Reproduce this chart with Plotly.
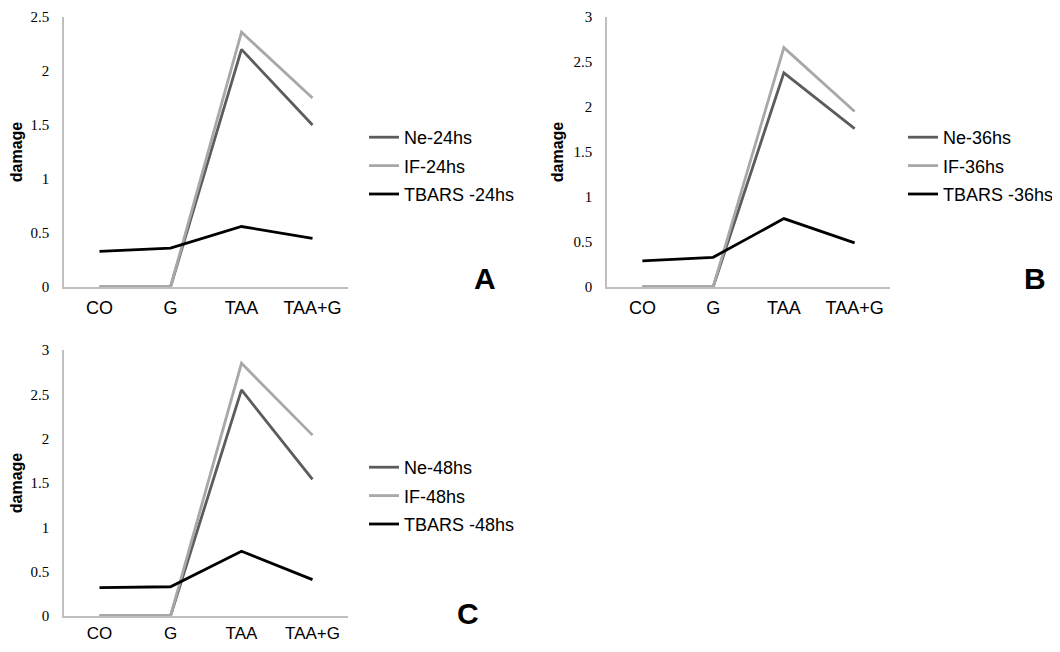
import plotly.graph_objects as go

categories = ["CO", "G", "TAA", "TAA+G"]

ne_24 = [0, 0, 2.20, 1.50]
if_24 = [0, 0, 2.36, 1.75]
tbars_24 = [0.33, 0.36, 0.56, 0.45]

ne_36 = [0, 0, 2.38, 1.76]
if_36 = [0, 0, 2.66, 1.95]
tbars_36 = [0.29, 0.33, 0.76, 0.49]

ne_48 = [0, 0, 2.55, 1.54]
if_48 = [0, 0, 2.85, 2.04]
tbars_48 = [0.32, 0.33, 0.73, 0.41]

panels = [
    dict(tag="24hs", ne=ne_24, iff=if_24, tb=tbars_24, ymax=2.5, dtick=0.5, letter="A"),
    dict(tag="36hs", ne=ne_36, iff=if_36, tb=tbars_36, ymax=3, dtick=0.5, letter="B"),
    dict(tag="48hs", ne=ne_48, iff=if_48, tb=tbars_48, ymax=3, dtick=0.5, letter="C"),
]

OFF = 8  # page body margin in the browser
W, H = 1060 - 2 * OFF, 652 - 2 * OFF
# pixel boxes in window coords: (x0, x1, ytop, ybottom)
boxes = [(64, 348, 17, 287), (607, 890, 17, 287), (64, 348, 350, 616)]
xticklen = [4, 4, 1]
xtickfs = [18, 18, 17]
legend_pos = [(364, 119), (903, 119), (364, 449)]
letter_pos = [(485, 278), (1035, 278), (468, 613)]

col_ne = "#5c5c5c"
col_if = "#a8a8a8"
col_tb = "#000000"


def px(x):
    return (x - OFF) / W


def py(y):
    return 1 - (y - OFF) / H


fig = go.Figure()
layout = {}
annotations = []
for i, p in enumerate(panels):
    sfx = "" if i == 0 else str(i + 1)
    xa, ya = "x" + sfx, "y" + sfx
    lg = "legend" if i == 0 else "legend" + str(i + 1)
    for name, vals, col, gi in [
        ("Ne-" + p["tag"], p["ne"], col_ne, "a"),
        ("IF-" + p["tag"], p["iff"], col_if, "b"),
        ("TBARS -" + p["tag"], p["tb"], col_tb, "c"),
    ]:
        fig.add_trace(go.Scatter(
            x=categories, y=vals, mode="lines", name=name,
            line=dict(color=col, width=2.8),
            xaxis=xa, yaxis=ya, legend=lg, legendgroup=lg + gi,
        ))
    x0, x1, yt, yb = boxes[i]
    layout["xaxis" + sfx] = dict(
        domain=[px(x0), px(x1)], anchor=ya, type="category", automargin=False,
        range=[-0.5, 3.5], showgrid=False, zeroline=False,
        showline=True, linecolor="#bfbfbf", linewidth=1.5,
        ticks="outside", ticklen=xticklen[i], tickcolor="rgba(0,0,0,0)",
        tickfont=dict(family="Liberation Sans, Arial", size=xtickfs[i], color="#000"),
    )
    layout["yaxis" + sfx] = dict(
        domain=[py(yb), py(yt)], anchor=xa, automargin=False,
        range=[0, p["ymax"]], dtick=p["dtick"], showgrid=False, zeroline=False,
        showline=True, linecolor="#bfbfbf", linewidth=1.5,
        ticks="outside", ticklen=10, tickcolor="rgba(0,0,0,0)",
        tickfont=dict(family="Liberation Serif, Times New Roman", size=15, color="#000"),
        title=dict(text="<b>damage</b>", standoff=6,
                   font=dict(family="Liberation Sans, Arial", size=16, color="#000")),
    )
    lx, ly = legend_pos[i]
    layout[lg] = dict(
        x=px(lx), y=py(ly), xanchor="left", yanchor="top",
        font=dict(family="Liberation Sans, Arial", size=18, color="#000"),
        bgcolor="rgba(0,0,0,0)", itemwidth=30, traceorder="grouped",
        tracegroupgap=2,
    )
    tx, ty = letter_pos[i]
    annotations.append(dict(
        x=px(tx), y=py(ty), xref="paper", yref="paper", text="<b>" + p["letter"] + "</b>",
        showarrow=False, font=dict(family="Liberation Sans, Arial", size=30, color="#000"),
        xanchor="center", yanchor="middle",
    ))

fig.update_layout(
    width=W, height=H, margin=dict(l=0, r=0, t=0, b=0, autoexpand=False),
    paper_bgcolor="white", plot_bgcolor="white",
    showlegend=True, annotations=annotations, **layout,
)
fig.write_html("out.html")
